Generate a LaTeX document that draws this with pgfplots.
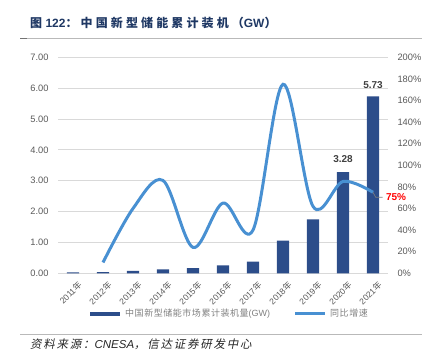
\documentclass[border=0pt]{standalone}
\usepackage{pgfplots}
\pgfplotsset{compat=1.18}
\usepackage{fontspec}
\setmainfont{Liberation Sans}
\newfontfamily\cjk{Noto Sans CJK SC}
\newfontfamily\cjktitle[LetterSpace=26]{Noto Sans CJK SC}
\newfontfamily\cjksrc[LetterSpace=15,FakeSlant=0.2]{Noto Sans CJK SC}
\newfontfamily\cjkleg[LetterSpace=6]{Noto Sans CJK SC}
\definecolor{barblue}{RGB}{44,77,138}
\definecolor{lineblue}{RGB}{72,144,210}
\definecolor{gridgray}{RGB}{217,217,217}
\definecolor{ticktext}{RGB}{89,89,89}
\definecolor{titleblue}{RGB}{31,56,100}
\definecolor{labgray}{RGB}{64,64,64}
\definecolor{leggray}{RGB}{128,128,128}
\begin{document}
\begin{tikzpicture}
\path[use as bounding box] (0pt,0pt) rectangle (432pt,-363pt);
% title and rules
\node[anchor=west, inner sep=0pt, text=titleblue, font=\fontsize{12}{14}\selectfont\bfseries] at (30pt,-22.5pt)
  {{\cjktitle 图}\ 122{\cjktitle ：中国新型储能累计装机（}GW{\cjktitle ）}};
\draw[gray!55, line width=1.3pt] (20pt,-38.7pt) -- (422pt,-38.7pt);
\draw[gray!90!black, line width=1.3pt] (20pt,-38.7pt) -- (27pt,-38.7pt);
\draw[gray!55, line width=1.3pt] (20pt,-334.7pt) -- (422pt,-334.7pt);
\node[anchor=west, inner sep=0pt, text=black!85, font=\fontsize{11.5}{13}\selectfont] at (30pt,-344.3pt)
  {{\cjksrc 资料来源：}\textit{CNESA}{\cjksrc ，信达证券研发中心}};

\begin{axis}[
  at={(58pt,-273.3pt)}, anchor=south west, scale only axis,
  width=330pt, height=216pt,
  xmin=-0.5, xmax=10.5, ymin=0, ymax=7,
  axis line style={draw=none}, tick style={draw=none},
  ytick={0,1,...,7},
  /pgf/number format/assume math mode=true,
  yticklabel style={/pgf/number format/.cd, fixed, fixed zerofill, precision=2, /tikz/.cd,
    font=\fontsize{9.3}{10}\selectfont, text=ticktext, xshift=-6pt},
  ymajorgrids, grid style={gridgray, line width=0.9pt},
  xtick={0,...,10},
  xticklabels={2011{\cjk 年},2012{\cjk 年},2013{\cjk 年},2014{\cjk 年},2015{\cjk 年},2016{\cjk 年},2017{\cjk 年},2018{\cjk 年},2019{\cjk 年},2020{\cjk 年},2021{\cjk 年}},
  xticklabel style={rotate=45, anchor=north east, inner sep=1pt, yshift=-7pt, xshift=-1pt,
    font=\fontsize{8.5}{9}\selectfont, text=ticktext},
  clip=false,
]
\addplot[ybar, bar width=12.3pt, fill=barblue, draw=none] coordinates {
 (0,0.03) (1,0.04) (2,0.08) (3,0.13) (4,0.17) (5,0.26) (6,0.38) (7,1.06) (8,1.75) (9,3.28) (10,5.73)};
\node[font=\fontsize{10}{11}\selectfont\bfseries, text=labgray] at (axis cs:9,3.70) {3.28};
\node[font=\fontsize{10}{11}\selectfont\bfseries, text=labgray] at (axis cs:10,6.10) {5.73};
\end{axis}

\begin{axis}[
  at={(58pt,-273.3pt)}, anchor=south west, scale only axis,
  width=330pt, height=216pt,
  xmin=-0.5, xmax=10.5, ymin=0, ymax=200,
  axis line style={draw=none}, tick style={draw=none},
  xtick=\empty,
  axis y line*=right,
  ytick={0,20,...,200},
  /pgf/number format/assume math mode=true,
  yticklabel={\pgfmathprintnumber{\tick}\%},
  yticklabel style={font=\fontsize{9.3}{10}\selectfont, text=ticktext, anchor=west, xshift=6pt},
  clip=false,
]
\addplot[smooth, tension=0.55, lineblue, line width=3pt] coordinates {
 (1,10) (2,60) (3,86) (4,24) (5,65) (6,40) (7,175) (8,62) (9,85) (10,75)};
\draw[gray, line width=0.6pt] (axis cs:10,75) -- (axis cs:10.09,70.4) -- (axis cs:10.32,70.4);
\node[anchor=west, inner sep=0pt, text=red, font=\fontsize{10}{11}\selectfont\bfseries] at (axis cs:10.43,70.4) {75\%};
\end{axis}

% legend
\fill[barblue] (90pt,-311.7pt) rectangle (120pt,-315.7pt);
\node[anchor=west, inner sep=0pt, text=leggray, font=\fontsize{9}{10}\selectfont] at (125pt,-313.5pt)
  {{\cjkleg 中国新型储能市场累计装机量}(GW)};
\draw[lineblue, line width=3pt] (295pt,-313.5pt) -- (325pt,-313.5pt);
\node[anchor=west, inner sep=0pt, text=leggray, font=\fontsize{9}{10}\selectfont] at (330pt,-313.5pt)
  {{\cjkleg 同比增速}};
\end{tikzpicture}
\end{document}
